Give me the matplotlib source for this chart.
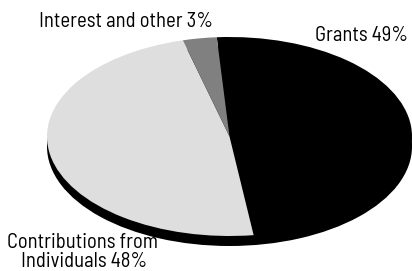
import matplotlib
matplotlib.use("Agg")
import matplotlib.pyplot as plt

categories = ["Grants", "Contributions from\nIndividuals", "Interest and other"]
values = [49, 48, 3]
colors = ["#000000", "#dedede", "#808080"]

W, H = 412, 271
cx, cy, a, b = 229.5, 136.5, 182.5, 99.5
depth = 10

fig = plt.figure(figsize=(W / 100, H / 100), dpi=100)
ax = fig.add_axes([0, 0, 1, 1])

# shadow (depth) layer
ax.pie([sum(values)], colors=["#000000"], center=(0, -depth / b), radius=1,
       startangle=94, counterclock=False, wedgeprops=dict(linewidth=0))
# top face
ax.pie(values, colors=colors, center=(0, 0), radius=1,
       startangle=94, counterclock=False, wedgeprops=dict(linewidth=0))

ax.set_aspect("auto")
ax.set_xlim(-cx / a, (W - cx) / a)
ax.set_ylim((cy - H) / b, cy / b)
ax.axis("off")

font = ["Barlow Semi Condensed", "Roboto Condensed", "DejaVu Sans"]
fs = 13
def px(x, y):
    return ((x - cx) / a, (cy - y) / b)

t1 = ax.text(*px(126, 27.3), f"{categories[2]} {values[2]}%", ha="center", va="baseline",
        fontsize=fs, family=font)
# fit font size so this label width matches the reference (~173 px)
r = fig.canvas.get_renderer()
w = t1.get_window_extent(r).width
fs = fs * 173 / w
t1.set_fontsize(fs)
ax.text(*px(361.7, 40.7), f"{categories[0]} {values[0]}%", ha="center", va="baseline",
        fontsize=fs, family=font)
l1, l2 = categories[1].split("\n")
ax.text(*px(82.5, 247.7), l1, ha="center", va="baseline", fontsize=fs, family=font)
ax.text(*px(84.5, 266.7), f"{l2} {values[1]}%", ha="center", va="baseline",
        fontsize=fs, family=font)

fig.savefig("out.png", dpi=100)
